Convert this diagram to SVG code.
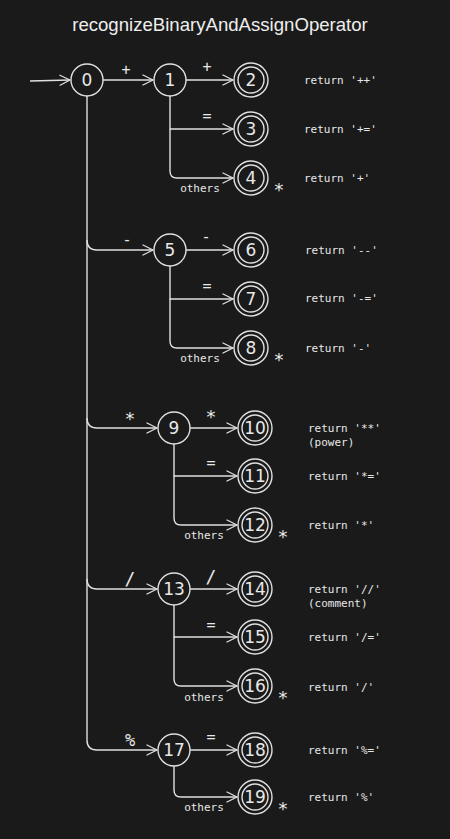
<svg xmlns="http://www.w3.org/2000/svg" width="450" height="839" viewBox="0 0 450 839">
<defs>
<marker id="ah" viewBox="0 0 12 12" refX="11" refY="6" markerWidth="12" markerHeight="12" markerUnits="userSpaceOnUse" orient="auto">
<path d="M1 1 L11 6 L1 11" fill="none" stroke="#e0e0e0" stroke-width="1.3" stroke-linecap="round" stroke-linejoin="round"/>
</marker>
<style>
.n circle{fill:none;stroke:#e0e0e0;stroke-width:1.4}
.n text{fill:#e8e8e8;font-family:"DejaVu Sans","Noto Sans",sans-serif;font-size:17px;text-anchor:middle;dominant-baseline:central}
.e path{fill:none;stroke:#e0e0e0;stroke-width:1.4;marker-end:url(#ah)}
.t{fill:#e8e8e8;font-family:"DejaVu Sans Mono","Liberation Mono",monospace;font-size:11px}
.l{fill:#e8e8e8;font-family:"DejaVu Sans Mono","Liberation Mono",monospace;font-size:15px;text-anchor:middle}
.s{fill:#e8e8e8;font-family:"DejaVu Sans Mono","Liberation Mono",monospace;font-size:18px;text-anchor:middle}
.o{fill:#e8e8e8;font-family:"DejaVu Sans Mono","Liberation Mono",monospace;font-size:11px;text-anchor:middle}
</style>
</defs>
<rect width="450" height="839" fill="#1a1a1a"/>
<text x="220" y="31" text-anchor="middle" fill="#eeeeee" font-family="Liberation Sans, Arial, sans-serif" font-size="18.6">recognizeBinaryAndAssignOperator</text>

<g id="connectors" class="e">
<path d="M30 81 L70 80"/>
<path d="M103 80 L153 80"/>
<path d="M186 80 L233 80"/>
<path d="M170 96 L170 129 L233 129"/>
<path d="M170 129 L170 171 Q170 178 177 178 L233 178"/>
<path d="M87 96 L87 740 Q87 750 97 750 L157 750"/>
<path d="M87 240 Q87 250 97 250 L153 250"/>
<path d="M186 250 L233 250"/>
<path d="M170 266 L170 299 L233 299"/>
<path d="M170 299 L170 341 Q170 348 177 348 L233 348"/>
<path d="M87 418 Q87 428 97 428 L157 428"/>
<path d="M190 428 L237 428"/>
<path d="M174 444 L174 476 L237 476"/>
<path d="M174 476 L174 518 Q174 525 181 525 L237 525"/>
<path d="M87 579 Q87 589 97 589 L157 589"/>
<path d="M190 589 L237 589"/>
<path d="M174 605 L174 637 L237 637"/>
<path d="M174 637 L174 679 Q174 686 181 686 L237 686"/>
<path d="M190 750 L237 750"/>
<path d="M174 766 L174 790 Q174 797 181 797 L237 797"/>
</g>

<g id="edge-labels">
<text class="l" x="126" y="75">+</text>
<text class="l" x="207" y="72">+</text>
<text class="l" x="207" y="121">=</text>
<text class="o" x="200" y="192">others</text>
<text class="l" x="127" y="245">-</text>
<text class="l" x="206" y="242">-</text>
<text class="l" x="207" y="291">=</text>
<text class="o" x="200" y="362">others</text>
<text class="s" x="130" y="425">*</text>
<text class="s" x="211" y="423">*</text>
<text class="l" x="211" y="468">=</text>
<text class="o" x="204" y="539">others</text>
<text class="s" x="130" y="585">/</text>
<text class="s" x="211" y="583">/</text>
<text class="l" x="211" y="630">=</text>
<text class="o" x="204" y="701">others</text>
<text class="l" x="130" y="746" style="font-size:17px">%</text>
<text class="l" x="211" y="742">=</text>
<text class="o" x="204" y="811">others</text>
</g>

<g id="n0" class="n"><circle cx="87" cy="80" r="16"/><text x="87" y="80">0</text></g>
<g id="n1" class="n"><circle cx="170" cy="80" r="16"/><text x="170" y="80">1</text></g>
<g id="n2" class="n"><circle cx="251" cy="80" r="17"/><circle cx="251" cy="80" r="13"/><text x="251" y="80">2</text></g>
<g id="n3" class="n"><circle cx="251" cy="129" r="17"/><circle cx="251" cy="129" r="13"/><text x="251" y="129">3</text></g>
<g id="n4" class="n"><circle cx="251" cy="178" r="17"/><circle cx="251" cy="178" r="13"/><text x="251" y="178">4</text></g>
<g id="n5" class="n"><circle cx="170" cy="250" r="16"/><text x="170" y="250">5</text></g>
<g id="n6" class="n"><circle cx="251" cy="250" r="17"/><circle cx="251" cy="250" r="13"/><text x="251" y="250">6</text></g>
<g id="n7" class="n"><circle cx="251" cy="299" r="17"/><circle cx="251" cy="299" r="13"/><text x="251" y="299">7</text></g>
<g id="n8" class="n"><circle cx="251" cy="348" r="17"/><circle cx="251" cy="348" r="13"/><text x="251" y="348">8</text></g>
<g id="n9" class="n"><circle cx="174" cy="428" r="16"/><text x="174" y="428">9</text></g>
<g id="n10" class="n"><circle cx="255" cy="428" r="17"/><circle cx="255" cy="428" r="13"/><text x="255" y="428">10</text></g>
<g id="n11" class="n"><circle cx="255" cy="476" r="17"/><circle cx="255" cy="476" r="13"/><text x="255" y="476">11</text></g>
<g id="n12" class="n"><circle cx="255" cy="525" r="17"/><circle cx="255" cy="525" r="13"/><text x="255" y="525">12</text></g>
<g id="n13" class="n"><circle cx="174" cy="589" r="16"/><text x="174" y="589">13</text></g>
<g id="n14" class="n"><circle cx="255" cy="589" r="17"/><circle cx="255" cy="589" r="13"/><text x="255" y="589">14</text></g>
<g id="n15" class="n"><circle cx="255" cy="637" r="17"/><circle cx="255" cy="637" r="13"/><text x="255" y="637">15</text></g>
<g id="n16" class="n"><circle cx="255" cy="686" r="17"/><circle cx="255" cy="686" r="13"/><text x="255" y="686">16</text></g>
<g id="n17" class="n"><circle cx="174" cy="750" r="16"/><text x="174" y="750">17</text></g>
<g id="n18" class="n"><circle cx="255" cy="750" r="17"/><circle cx="255" cy="750" r="13"/><text x="255" y="750">18</text></g>
<g id="n19" class="n"><circle cx="255" cy="797" r="17"/><circle cx="255" cy="797" r="13"/><text x="255" y="797">19</text></g>

<g id="stars">
<text class="s" x="279" y="196">*</text>
<text class="s" x="279" y="366">*</text>
<text class="s" x="283" y="543">*</text>
<text class="s" x="283" y="704">*</text>
<text class="s" x="283" y="815">*</text>
</g>

<g id="returns">
<text class="t" x="304" y="84">return '++'</text>
<text class="t" x="304" y="133">return '+='</text>
<text class="t" x="304" y="182">return '+'</text>
<text class="t" x="305" y="254">return '--'</text>
<text class="t" x="305" y="302">return '-='</text>
<text class="t" x="305" y="352">return '-'</text>
<text class="t" x="308" y="432">return '**'</text>
<text class="t" x="308" y="446">(power)</text>
<text class="t" x="308" y="480">return '*='</text>
<text class="t" x="308" y="529">return '*'</text>
<text class="t" x="308" y="593">return '//'</text>
<text class="t" x="308" y="607">(comment)</text>
<text class="t" x="308" y="641">return '/='</text>
<text class="t" x="308" y="691">return '/'</text>
<text class="t" x="308" y="754">return '%='</text>
<text class="t" x="308" y="801">return '%'</text>
</g>
</svg>
